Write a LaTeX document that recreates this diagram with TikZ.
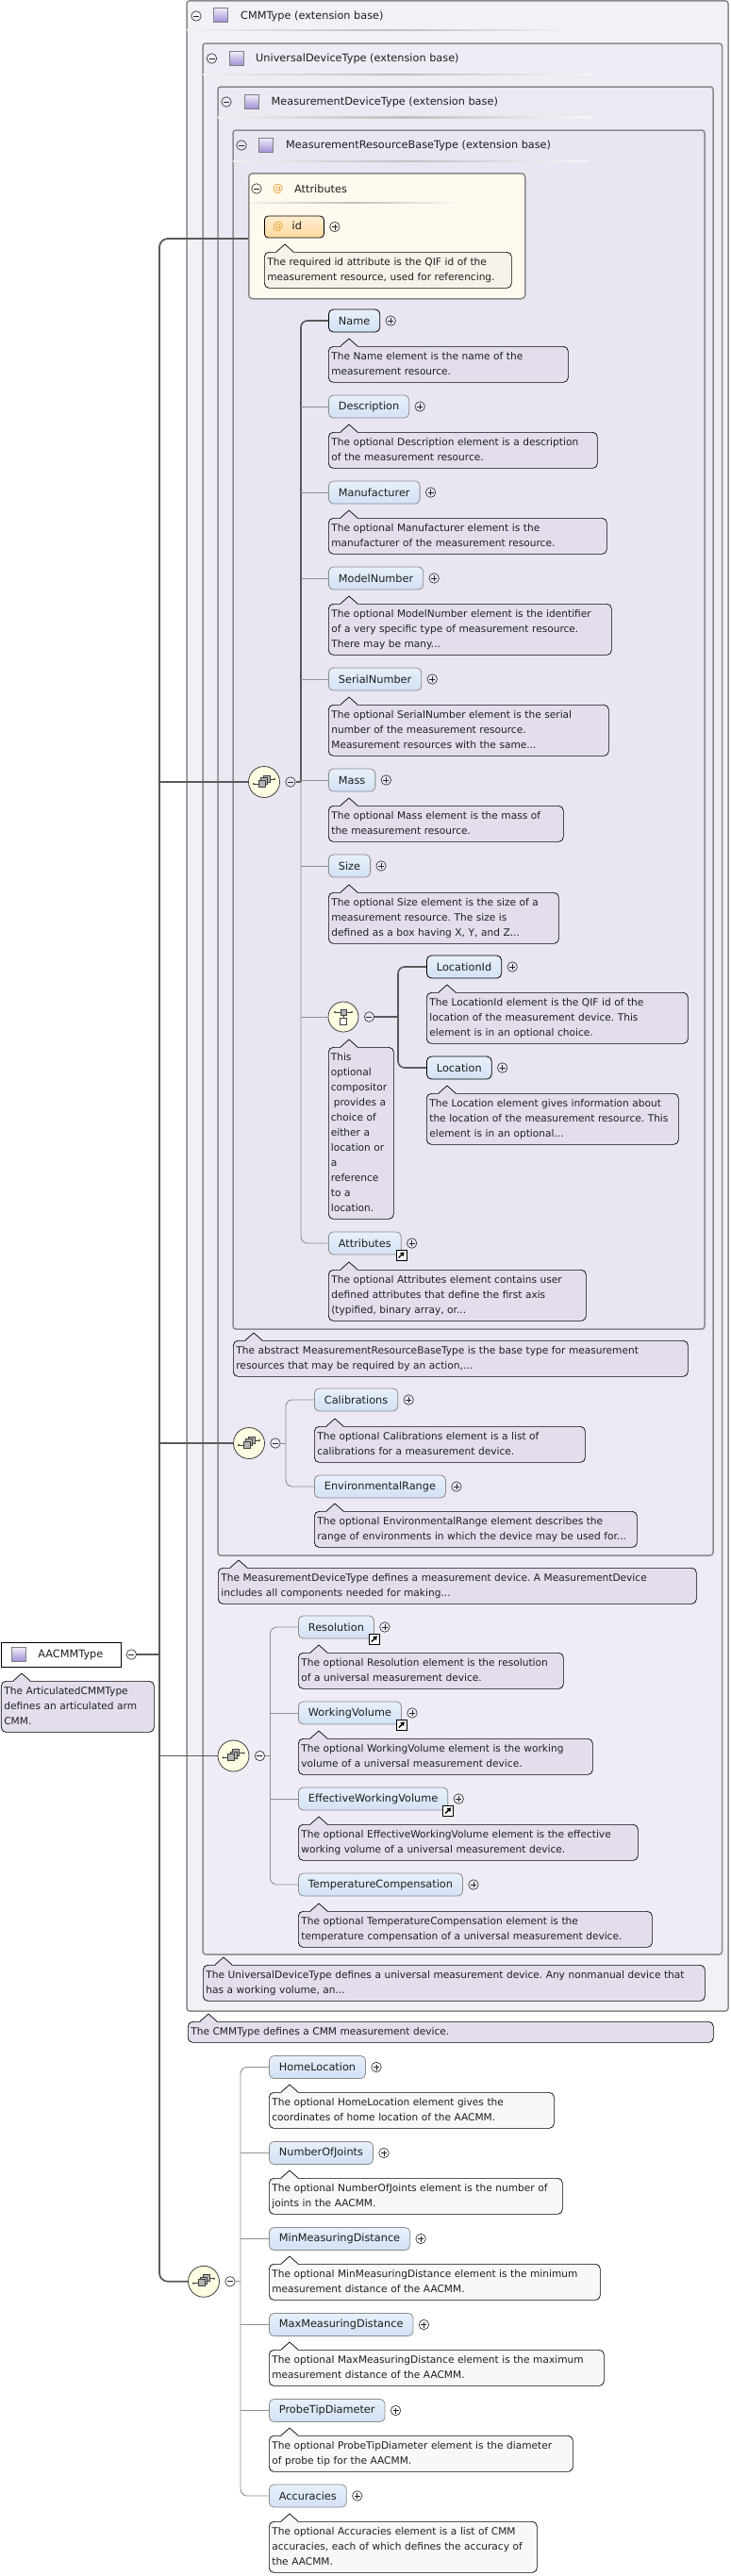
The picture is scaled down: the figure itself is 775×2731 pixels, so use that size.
\documentclass[tikz,border=0pt]{standalone}
\usepackage{fontspec}
\setmainfont{DejaVu Sans}
\usetikzlibrary{positioning,arrows.meta}
\frenchspacing
\definecolor{txt}{HTML}{1E1E1E}
\definecolor{notefill}{HTML}{E4DEEC}
\definecolor{notewh}{HTML}{F8F8F8}
\definecolor{attnote}{HTML}{F6F2EA}
\definecolor{elA}{HTML}{E8F0FB}
\definecolor{elB}{HTML}{D2E1F5}
\definecolor{optln}{HTML}{8C8C8C}
\definecolor{boxln}{HTML}{8A8A8A}
\definecolor{cmmfill}{HTML}{F3F1F8}
\definecolor{udtfill}{HTML}{EFECF6}
\definecolor{mdtfill}{HTML}{ECE9F4}
\definecolor{mrbfill}{HTML}{E9E6F2}
\definecolor{attfill}{HTML}{FFF9EE}
\definecolor{idA}{HTML}{FFEDD0}
\definecolor{idB}{HTML}{FFD9A0}
\definecolor{seqfill}{HTML}{FFFDE2}
\definecolor{orng}{HTML}{EE9F2C}
\definecolor{sqA}{HTML}{F0EBFA}
\definecolor{sqB}{HTML}{A08ED4}
\definecolor{trk}{HTML}{5A5A5A}
\definecolor{thnc}{HTML}{909090}

\newcommand\notetip[2][notefill]{%
  \fill[#1] ([xshift=13pt,yshift=-0.8pt]#2.north west) -- ([xshift=22pt,yshift=8pt]#2.north west) -- ([xshift=31pt,yshift=-0.8pt]#2.north west) -- cycle;
  \draw[line width=0.7pt] ([xshift=13pt]#2.north west) -- ([xshift=22pt,yshift=8pt]#2.north west) -- ([xshift=31pt]#2.north west);}

\begin{document}
\begin{tikzpicture}[x=1pt,y=-1pt,
  every node/.style={text=txt},
  lbl/.style={font=\fontsize{11.3}{14}\selectfont},
  ttl/.style={lbl, anchor=west, inner sep=0pt},
  box/.style={draw=boxln, line width=1.5pt, rounded corners=3pt},
  uline/.style={left color=gray!12, right color=gray!6, middle color=gray!50},
  el/.style={lbl, rounded corners=5pt, top color=elA, bottom color=elB, minimum height=24pt, inner xsep=10.5pt, inner ysep=0pt, anchor=west, line width=0.8pt},
  req/.style={el, draw=black},
  opt/.style={el, draw=optln},
  note/.style={draw=black, line width=0.7pt, rounded corners=5pt, fill=notefill, anchor=north west, align=left, inner xsep=3pt, inner ysep=3pt, font=\fontsize{10.6}{16}\selectfont, execute at begin node=\strut, execute at end node=\strut},
  notew/.style={note, fill=notewh},
  pm/.style={circle, draw=black!85, line width=0.6pt, minimum size=10.5pt, inner sep=0pt},
  minus/.style={pm, path picture={\draw[line width=0.6pt] ([xshift=-3pt]path picture bounding box.center) -- ([xshift=3pt]path picture bounding box.center);}},
  plus/.style={pm, path picture={\draw[line width=0.6pt] ([xshift=-3pt]path picture bounding box.center) -- ([xshift=3pt]path picture bounding box.center) ([yshift=-3pt]path picture bounding box.center) -- ([yshift=3pt]path picture bounding box.center);}},
  lnk/.style={draw=black, fill=white, line width=0.7pt, minimum size=11pt, inner sep=0pt, path picture={\draw[line width=1.4pt, -{Triangle[length=4pt,width=5pt]}] ([xshift=-3pt,yshift=-3pt]path picture bounding box.center) -- ([xshift=3pt,yshift=3pt]path picture bounding box.center);}},
  tsq/.style={draw=gray, top color=sqA, bottom color=sqB, minimum size=15pt, inner sep=0pt},
  seqc/.style={circle, draw=black!75, fill=seqfill, line width=0.8pt, minimum size=33pt, inner sep=0pt,
    path picture={\begin{scope}[shift={(path picture bounding box.center)}, line width=0.6pt]
      \draw[black!75] (-11,2) -- (-6,2) (6,-3) -- (11,-3);
      \fill[black!75] (-11,2) circle (1.1pt) (11,-3) circle (1.1pt);
      \draw[black!75, fill=gray!60] (-1,-7) rectangle (6,0);
      \draw[black!75, fill=gray!60] (-3.5,-4.5) rectangle (3.5,2.5);
      \draw[black!75, fill=gray!60] (-6,-2) rectangle (1,5);
    \end{scope}}},
  chcc/.style={circle, draw=black!75, fill=seqfill, line width=0.8pt, minimum size=32pt, inner sep=0pt,
    path picture={\begin{scope}[shift={(path picture bounding box.center)}, line width=0.6pt]
      \draw[black!75] (-9,-5) -- (9,-5);
      \fill[black!75] (-9,-5) circle (1.1pt) (9,-5) circle (1.1pt);
      \draw[black!75, fill=gray!60] (-3,-8) rectangle (3,-2);
      \draw[black!75] (0,-2) -- (0,1.5);
      \draw[black!75, fill=white] (-3.5,1.5) rectangle (3.5,8.5);
    \end{scope}}},
  agrp/.style={draw=boxln, line width=1.5pt, fill=attfill, rounded corners=4pt, anchor=north west, minimum width=293pt, minimum height=133pt, inner sep=0pt},
  idbox/.style={lbl, draw=black, line width=0.8pt, top color=idA, bottom color=idB, rounded corners=4pt, anchor=west, minimum height=23pt, text width=45pt, inner xsep=9pt, inner ysep=0pt, align=left},
  tbox/.style={lbl, draw=black, line width=0.8pt, fill=white, anchor=west, minimum height=26pt, text width=117pt, inner xsep=5pt, inner ysep=0pt, align=left},
  trunk/.style={draw=trk, line width=1.8pt},
  thk/.style={draw=trk, line width=1.6pt},
  thn/.style={draw=thnc, line width=0.9pt}]

  \fill[white] (0,0) rectangle (775,2731);
  \useasboundingbox (0,0) rectangle (775,2731);

  % type boxes
  \draw[box, fill=cmmfill] (198,0.8) rectangle (772,2132);
  \draw[box, fill=udtfill] (215,46) rectangle (765.5,2072);
  \draw[box, fill=mdtfill] (231,92) rectangle (756,1649);
  \draw[box, fill=mrbfill] (247,138) rectangle (747,1409);

  \node[minus] (cmmM) at (208,17) {};
  \node[tsq] (cmmS) at (234,16) {};
  \node[ttl] (cmmT) at (255,17) {CMMType (extension base)};
  \shade[uline] (198,31.2) rectangle (632,32.8);

  \node[minus] (udtM) at (224.5,62) {};
  \node[tsq] (udtS) at (250.5,62) {};
  \node[ttl] (udtT) at (271,62) {UniversalDeviceType (extension base)};
  \shade[uline] (215,78.2) rectangle (630,79.8);

  \node[minus] (mdtM) at (240,108) {};
  \node[tsq] (mdtS) at (266.5,108) {};
  \node[ttl] (mdtT) at (287.5,108) {MeasurementDeviceType (extension base)};
  \shade[uline] (231,123.7) rectangle (627,125.3);

  \node[minus] (mrbM) at (256,154) {};
  \node[tsq] (mrbS) at (282,154) {};
  \node[ttl] (mrbT) at (303,154) {MeasurementResourceBaseType (extension base)};
  \shade[uline] (247,170.2) rectangle (624,171.8);

  % attributes
  \node[agrp] (attrgrp) at (263,183) {};
  \node[minus] (agM) at (272,200) {};
  \node[ttl, text=orng] (agAt) at (289,200) {@};
  \node[ttl] (agT) at (312,200) {Attributes};
  \shade[uline] (267,214.3) rectangle (484,215.7);
  \node[idbox] (idb) at (280,240.5) {\textcolor{orng}{@}\hspace{9pt}id};
  \node[plus, right=5.5pt of idb] (idP) {};
  \node[note, fill=attnote, text width=256pt] (idN) at (280,267) {The required id attribute is the QIF id of the\\measurement resource, used for referencing.};
  \notetip[attnote]{idN}

  % MeasurementResourceBaseType sequence
  \node[req] (nm) at (348,340) {Name};
  \node[plus, right=5.5pt of nm] (nmP) {};
  \node[note, text width=248pt] (nmN) at (348,367) {The Name element is the name of the\\measurement resource.};
  \notetip{nmN}
  \node[opt] (dsc) at (348,431) {Description};
  \node[plus, right=5.5pt of dsc] (dscP) {};
  \node[note, text width=279pt] (dscN) at (348,458) {The optional Description element is a description\\of the measurement resource.};
  \notetip{dscN}
  \node[opt] (mfr) at (348,522) {Manufacturer};
  \node[plus, right=5.5pt of mfr] (mfrP) {};
  \node[note, text width=289pt] (mfrN) at (348,549) {The optional Manufacturer element is the\\manufacturer of the measurement resource.};
  \notetip{mfrN}
  \node[opt] (mdl) at (348,613) {ModelNumber};
  \node[plus, right=5.5pt of mdl] (mdlP) {};
  \node[note, text width=294pt] (mdlN) at (348,640) {The optional ModelNumber element is the identifier\\of a very specific type of measurement resource.\\There may be many...};
  \notetip{mdlN}
  \node[opt] (ser) at (348,720) {SerialNumber};
  \node[plus, right=5.5pt of ser] (serP) {};
  \node[note, text width=291pt] (serN) at (348,747) {The optional SerialNumber element is the serial\\number of the measurement resource.\\Measurement resources with the same...};
  \notetip{serN}
  \node[opt] (mass) at (348,827) {Mass};
  \node[plus, right=5.5pt of mass] (massP) {};
  \node[note, text width=243pt] (massN) at (348,854) {The optional Mass element is the mass of\\the measurement resource.};
  \notetip{massN}
  \node[opt] (size) at (348,918) {Size};
  \node[plus, right=5.5pt of size] (sizeP) {};
  \node[note, text width=238pt] (sizeN) at (348,946) {The optional Size element is the size of a\\measurement resource. The size is\\defined as a box having X, Y, and Z...};
  \notetip{sizeN}

  \node[chcc] (chc) at (364,1078) {};
  \node[minus, right=5.5pt of chc] (chcM) {};
  \node[note, text width=64pt, inner xsep=2.5pt] (chcN) at (348,1110) {This\\optional\\compositor\\\hspace*{3pt}provides a\\choice of\\either a\\location or\\a\\reference\\to a\\location.};
  \notetip{chcN}
  \node[req] (locid) at (452,1025) {LocationId};
  \node[plus, right=5.5pt of locid] (locidP) {};
  \node[note, text width=271pt] (locidN) at (452,1052) {The LocationId element is the QIF id of the\\location of the measurement device. This\\element is in an optional choice.};
  \notetip{locidN}
  \node[req] (loc) at (452,1132) {Location};
  \node[plus, right=5.5pt of loc] (locP) {};
  \node[note, text width=261pt] (locN) at (452,1159) {The Location element gives information about\\the location of the measurement resource. This\\element is in an optional...};
  \notetip{locN}

  \node[opt] (attr) at (348,1318) {Attributes};
  \node[lnk] (attrL) at (attr.south east) {};
  \node[plus, right=5.5pt of attr] (attrP) {};
  \node[note, text width=267pt] (attrN) at (348,1346) {The optional Attributes element contains user\\defined attributes that define the first axis\\(typified, binary array, or...};
  \notetip{attrN}

  \node[seqc] (seqA) at (280,829) {};
  \node[minus, right=5.5pt of seqA] (seqAm) {};
  \coordinate (vA) at (319,829);
  \draw[thk] (seqAm.east) -- (vA);
  \draw[thk, rounded corners=7pt] (vA) |- (nm.west);
  \draw[thn, rounded corners=7pt] (vA) |- (attr.west);
  \foreach \n in {dsc,mfr,mdl,ser,mass,size,chc}
    \draw[thn] (vA |- \n.west) -- (\n.west);
  \coordinate (vCh) at (422,1078);
  \draw[thk] (chcM.east) -- (vCh);
  \draw[thk, rounded corners=7pt] (vCh) |- (locid.west);
  \draw[thk, rounded corners=7pt] (vCh) |- (loc.west);

  \node[note, text width=476pt] (mrbN) at (247,1421) {The abstract MeasurementResourceBaseType is the base type for measurement\\resources that may be required by an action,...};
  \notetip{mrbN}

  % MeasurementDeviceType sequence
  \node[opt] (cal) at (333,1484) {Calibrations};
  \node[plus, right=5.5pt of cal] (calP) {};
  \node[note, text width=281pt] (calN) at (333,1512) {The optional Calibrations element is a list of\\calibrations for a measurement device.};
  \notetip{calN}
  \node[opt] (env) at (333,1576) {EnvironmentalRange};
  \node[plus, right=5.5pt of env] (envP) {};
  \node[note, text width=336pt] (envN) at (333,1602) {The optional EnvironmentalRange element describes the\\range of environments in which the device may be used for...};
  \notetip{envN}
  \node[seqc] (seqB) at (264,1530) {};
  \node[minus, right=5.5pt of seqB] (seqBm) {};
  \coordinate (vB) at (303,1530);
  \draw[thn] (seqBm.east) -- (vB);
  \draw[thn, rounded corners=7pt] (vB) |- (cal.west);
  \draw[thn, rounded corners=7pt] (vB) |- (env.west);

  \node[note, text width=501pt] (mdtN) at (231,1662) {The MeasurementDeviceType defines a measurement device. A MeasurementDevice\\includes all components needed for making...};
  \notetip{mdtN}

  % UniversalDeviceType sequence
  \node[opt] (res) at (316,1725) {Resolution};
  \node[lnk] (resL) at (res.south east) {};
  \node[plus, right=5.5pt of res] (resP) {};
  \node[note, text width=275pt] (resN) at (316,1752) {The optional Resolution element is the resolution\\of a universal measurement device.};
  \notetip{resN}
  \node[opt] (wv) at (316,1816) {WorkingVolume};
  \node[lnk] (wvL) at (wv.south east) {};
  \node[plus, right=5.5pt of wv] (wvP) {};
  \node[note, text width=306pt] (wvN) at (316,1843) {The optional WorkingVolume element is the working\\volume of a universal measurement device.};
  \notetip{wvN}
  \node[opt] (ewv) at (316,1907) {EffectiveWorkingVolume};
  \node[lnk] (ewvL) at (ewv.south east) {};
  \node[plus, right=5.5pt of ewv] (ewvP) {};
  \node[note, text width=354pt] (ewvN) at (316,1934) {The optional EffectiveWorkingVolume element is the effective\\working volume of a universal measurement device.};
  \notetip{ewvN}
  \node[opt] (tc) at (316,1998) {TemperatureCompensation};
  \node[plus, right=5.5pt of tc] (tcP) {};
  \node[note, text width=369pt] (tcN) at (316,2026) {The optional TemperatureCompensation element is the\\temperature compensation of a universal measurement device.};
  \notetip{tcN}
  \node[seqc] (seqC) at (247.5,1861.5) {};
  \node[minus, right=5.5pt of seqC] (seqCm) {};
  \coordinate (vU) at (286.5,1861.5);
  \draw[thn] (seqCm.east) -- (vU);
  \draw[thn, rounded corners=7pt] (vU) |- (res.west);
  \draw[thn, rounded corners=7pt] (vU) |- (tc.west);
  \foreach \n in {wv,ewv}
    \draw[thn] (vU |- \n.west) -- (\n.west);

  \node[note, text width=526pt] (udtN) at (215,2083) {The UniversalDeviceType defines a universal measurement device. Any nonmanual device that\\has a working volume, an...};
  \notetip{udtN}
  \node[note, text width=551pt] (cmmN) at (199,2143) {The CMMType defines a CMM measurement device.};
  \notetip{cmmN}

  % AACMMType sequence
  \node[opt] (hl) at (285,2191.5) {HomeLocation};
  \node[plus, right=5.5pt of hl] (hlP) {};
  \node[notew, text width=296pt] (hlN) at (285,2218) {The optional HomeLocation element gives the\\coordinates of home location of the AACMM.};
  \notetip[notewh]{hlN}
  \node[opt] (noj) at (285,2282.5) {NumberOfJoints};
  \node[plus, right=5.5pt of noj] (nojP) {};
  \node[notew, text width=305pt] (nojN) at (285,2309) {The optional NumberOfJoints element is the number of\\joints in the AACMM.};
  \notetip[notewh]{nojN}
  \node[opt] (minmd) at (285,2373.5) {MinMeasuringDistance};
  \node[plus, right=5.5pt of minmd] (minmdP) {};
  \node[notew, text width=345pt] (minmdN) at (285,2400) {The optional MinMeasuringDistance element is the minimum\\measurement distance of the AACMM.};
  \notetip[notewh]{minmdN}
  \node[opt] (maxmd) at (285,2464.5) {MaxMeasuringDistance};
  \node[plus, right=5.5pt of maxmd] (maxmdP) {};
  \node[notew, text width=349pt] (maxmdN) at (285,2491) {The optional MaxMeasuringDistance element is the maximum\\measurement distance of the AACMM.};
  \notetip[notewh]{maxmdN}
  \node[opt] (ptd) at (285,2555.5) {ProbeTipDiameter};
  \node[plus, right=5.5pt of ptd] (ptdP) {};
  \node[notew, text width=316pt] (ptdN) at (285,2582) {The optional ProbeTipDiameter element is the diameter\\of probe tip for the AACMM.};
  \notetip[notewh]{ptdN}
  \node[opt] (acc) at (285,2646) {Accuracies};
  \node[plus, right=5.5pt of acc] (accP) {};
  \node[notew, text width=278pt] (accN) at (285,2673) {The optional Accuracies element is a list of CMM\\accuracies, each of which defines the accuracy of\\the AACMM.};
  \notetip[notewh]{accN}
  \node[seqc] (seqD) at (216,2418.75) {};
  \node[minus, right=5.5pt of seqD] (seqDm) {};
  \coordinate (vH) at (255,2418.75);
  \draw[thn] (seqDm.east) -- (vH);
  \draw[thn, rounded corners=7pt] (vH) |- (hl.west);
  \draw[thn, rounded corners=7pt] (vH) |- (acc.west);
  \foreach \n in {noj,minmd,maxmd,ptd}
    \draw[thn] (vH |- \n.west) -- (\n.west);

  % root
  \node[tbox] (aacmm) at (1,1754) {\hspace*{34pt}AACMMType};
  \node[tsq] (aacS) at (19.5,1754) {};
  \node[minus, right=5pt of aacmm] (aacM) {};
  \node[note, text width=156pt] (aacN) at (1,1782) {The ArticulatedCMMType\\defines an articulated arm\\CMM.};
  \notetip{aacN}

  \coordinate (attrin) at (263,253);
  \coordinate (tk) at (169,2418.75);
  \draw[trunk, rounded corners=9pt] (attrin) -| (tk) -- (seqD.west);
  \foreach \s in {seqA,seqB,seqC}
    \draw[trunk] (tk |- \s.west) -- (\s.west);
  \draw[trunk] (aacM.east) -- (tk |- aacM.east);
\end{tikzpicture}
\end{document}
